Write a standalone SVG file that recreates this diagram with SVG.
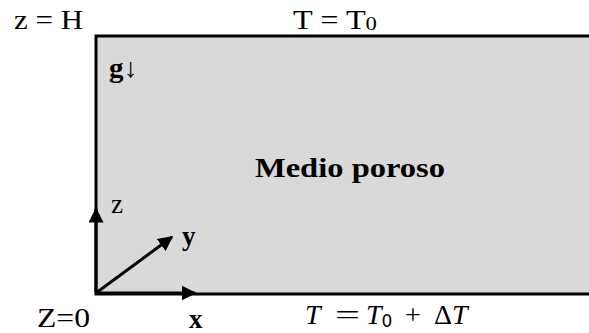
<svg xmlns="http://www.w3.org/2000/svg" width="589" height="333" viewBox="0 0 589 333">
<style>
.t{font-family:"Liberation Serif","Times New Roman",serif;font-size:27px;fill:#000}
.b{font-weight:bold}
.m{font-family:"Liberation Serif",serif;font-size:28px;font-style:italic}
.n{font-style:normal}
.ax{stroke:#000;stroke-width:3;fill:none}
</style>
<defs>
<marker id="ah" viewBox="0 0 10 10" refX="9" refY="5" markerWidth="5" markerHeight="5" orient="auto" markerUnits="strokeWidth">
<path d="M0,0 L10,5 L0,10 z" fill="#000"/>
</marker>
</defs>
<rect width="589" height="333" fill="#fff"/>
<g id="medio">
<rect x="96" y="36" width="500" height="258" fill="#d9d9d9"/>
<path d="M596,36 H96 V294 H596" fill="none" stroke="#000" stroke-width="3"/>
<text class="t b" x="255" y="177" font-size="28" textLength="190" lengthAdjust="spacingAndGlyphs">Medio poroso</text>
<text class="t b" x="109" y="77" textLength="29" lengthAdjust="spacingAndGlyphs">g↓</text>
</g>
<g id="labels">
<text class="t" x="14" y="29" textLength="69" lengthAdjust="spacingAndGlyphs">z = H</text>
<text class="t" x="293" y="29" textLength="84" lengthAdjust="spacingAndGlyphs">T = T<tspan font-size="19" dy="1">0</tspan></text>
<text class="t" x="37" y="327" textLength="53" lengthAdjust="spacingAndGlyphs">Z=0</text>
<text class="m" x="305" y="324">T<tspan x="335" class="n" textLength="25" lengthAdjust="spacingAndGlyphs">=</tspan><tspan x="366">T</tspan><tspan class="n" font-family="DejaVu Sans" font-size="17" dy="3">0</tspan><tspan x="405" dy="-3" class="n">+</tspan><tspan x="434" class="n">Δ</tspan><tspan x="452">T</tspan></text>
</g>
<g id="connectors">
<line class="ax" x1="96" y1="293" x2="96" y2="209" marker-end="url(#ah)"/>
<line class="ax" x1="96" y1="293" x2="195" y2="293" marker-end="url(#ah)"/>
<line class="ax" x1="96" y1="293" x2="172" y2="237" marker-end="url(#ah)"/>
</g>
<g id="axis-labels">
<text class="t" x="111" y="213">z</text>
<text class="t b" x="182" y="245">y</text>
<text class="t b" x="189" y="328">x</text>
</g>
</svg>
